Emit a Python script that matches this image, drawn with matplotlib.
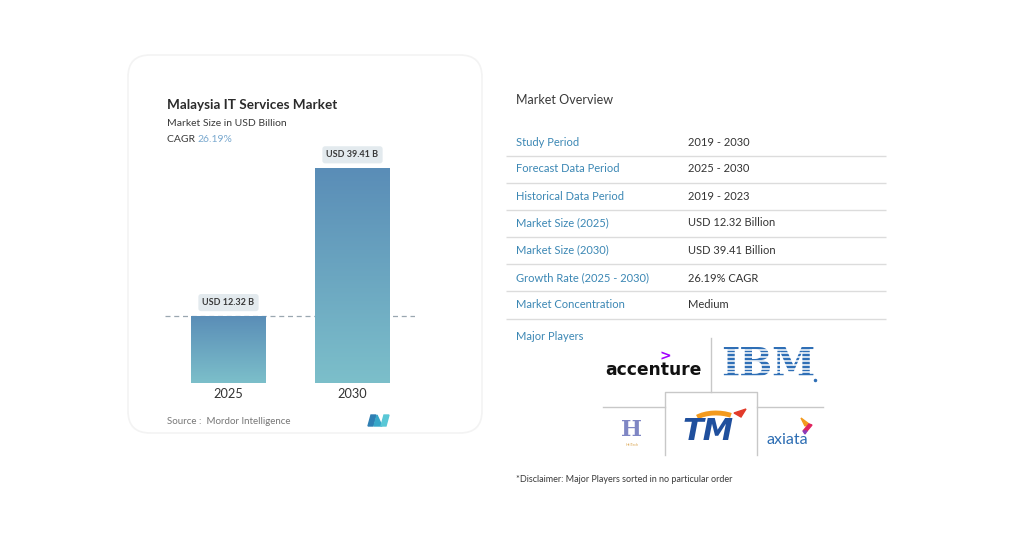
import numpy as np
import matplotlib.pyplot as plt
from matplotlib.patches import FancyBboxPatch, Polygon, Arc
from matplotlib.colors import LinearSegmentedColormap

plt.rcParams['font.family'] = ['Lato', 'DejaVu Sans']

# chart data
years = ['2025', '2030']
values = [12.32, 39.41]
value_labels = ['USD 12.32 B', 'USD 39.41 B']
cagr = '26.19%'

# overview table
row_names = ['Study Period', 'Forecast Data Period', 'Historical Data Period',
             'Market Size (2025)', 'Market Size (2030)', 'Growth Rate (2025 - 2030)',
             'Market Concentration']
row_values = ['2019 - 2030', '2025 - 2030', '2019 - 2023', 'USD 12.32 Billion',
              'USD 39.41 Billion', '26.19% CAGR', 'Medium']

W, H = 1024, 538
fig = plt.figure(figsize=(W / 100, H / 100), dpi=100)
fig.patch.set_facecolor('white')

# overlay in pixel coordinates
ov = fig.add_axes([0, 0, 1, 1])
ov.set_xlim(0, W)
ov.set_ylim(H, 0)
ov.axis('off')

# card
card = FancyBboxPatch((128, 55), 354, 378, boxstyle='round,pad=0,rounding_size=22',
                      fc='white', ec='#f3f3f3', lw=1.2, zorder=0)
ov.add_patch(card)

ov.text(167, 105, 'Malaysia IT Services Market', fontsize=9.7, fontweight='bold',
        color='#2b2b2b', va='center')
ov.text(167, 124, 'Market Size in USD Billion', fontsize=7.5, color='#3a3a3a', va='center')
t = ov.text(167, 140, 'CAGR ', fontsize=7.5, color='#3a3a3a', va='center')
ov.annotate(cagr, xycoords=t, xy=(1, 0), va='bottom', fontsize=7.5, color='#7aa9cf')

ov.text(167, 421, 'Source :  Mordor Intelligence', fontsize=7, color='#777777', va='center')
# small logo
ov.add_patch(Polygon([[368, 426], [371, 415], [376, 415], [373, 426]], color='#2f7fb3'))
ov.add_patch(Polygon([[374, 426], [377, 415], [382, 426]], color='#37a6c8'))
ov.add_patch(Polygon([[381, 426], [384, 415], [389, 415], [386, 426]], color='#59c7d6'))

# bar chart axes
base_y, top_y = 383, 140
ax = fig.add_axes([165 / W, (H - base_y) / H, 250 / W, (base_y - top_y) / H])
ymax = values[1] * (base_y - top_y) / (383 - 168)
ax.set_ylim(0, ymax)
xpos = np.arange(len(years))
ax.set_xlim(-(228.5 - 165) / 124, 1 + (415 - 352.5) / 124)
ax.axis('off')
ax.patch.set_alpha(0)

bw = 75 / 124
bars = ax.bar(xpos, values, width=bw, color='none', zorder=2)
grad = np.linspace(0, 1, 256).reshape(-1, 1)
cmap = LinearSegmentedColormap.from_list('g', ['#7cbfca', '#5a8db7'])
for b in bars:
    x0, w, h = b.get_x(), b.get_width(), b.get_height()
    im = ax.imshow(grad, cmap=cmap, extent=[x0, x0 + w, 0, h], origin='lower',
                   aspect='auto', zorder=2)
    im.set_clip_path(b)

ax.axhline(values[0], color='#9aa7b0', lw=0.9, ls=(0, (4, 3)), zorder=1)

for x, v, lab in zip(xpos, values, value_labels):
    ax.annotate(lab, xy=(x, v), xytext=(0, 9.5), textcoords='offset points',
                ha='center', va='center', fontsize=6.5, fontweight='bold', color='#3a3a3a',
                bbox=dict(boxstyle='round,pad=0.45,rounding_size=0.3', fc='#e3eaee', ec='none'),
                zorder=3)
    ax.text(x, -ymax * 0.045, years[int(x)], ha='center', va='center', fontsize=9.2,
            color='#333333')

# overview side
ov.text(516, 100, 'Market Overview', fontsize=9, color='#3a3a3a', va='center')
row_y = [142, 169, 196, 223, 250, 278, 305]
sep_y = [156, 183, 210, 237, 264, 291, 319]
for y, name, val in zip(row_y, row_names, row_values):
    ov.text(516, y, name, fontsize=8, color='#3b87b4', va='center')
    ov.text(688, y, val, fontsize=8, color='#333333', va='center')
for y in sep_y:
    ov.plot([506, 886], [y, y], color='#dcdcdc', lw=1, solid_capstyle='butt')
ov.text(516, 337, 'Major Players', fontsize=8, color='#3b87b4', va='center')

# logo grid
lc = '#c8c8c8'
ov.plot([711, 711], [338, 392], color=lc, lw=1)
ov.plot([603, 665], [407, 407], color=lc, lw=1)
ov.plot([757, 823], [407, 407], color=lc, lw=1)
ov.plot([665, 665, 757, 757], [455, 392, 392, 455], color=lc, lw=1)

# accenture
ov.text(653, 370, 'accenture', fontsize=12.3, fontweight='bold', color='#111111',
        ha='center', va='center', family='DejaVu Sans')
ov.text(665, 356, '>', fontsize=10, fontweight='bold', color='#a100ff', ha='center',
        va='center', family='DejaVu Sans')

# IBM
ov.text(768, 365, 'IBM', fontsize=28, fontweight='bold', color='#2f6fb6', ha='center',
        va='center', family='DejaVu Serif')
for yy in np.arange(349.5, 384, 3.8):
    ov.plot([716, 822], [yy, yy], color='white', lw=1.1, zorder=5)
ov.plot([815], [380], marker='o', ms=1.5, color='#2f6fb6', zorder=6)

# H logo
ov.text(632, 430, 'H', fontsize=16, fontweight='bold', color='#7f86c4', ha='center',
        va='center', family='DejaVu Serif')
ov.text(632, 445, 'HeiTech', fontsize=2.5, color='#d9a24a', ha='center', va='center')

# TM
ov.text(708, 431, 'TM', fontsize=22, fontweight='bold', style='italic', color='#1f4f9d',
        ha='center', va='center', family='DejaVu Sans')
ov.add_patch(Arc((716, 424), 48, 22, theta1=200, theta2=330, color='#f39a1e', lw=3.5))
ov.add_patch(Polygon([[734, 413], [746, 409], [741, 417]], color='#e23b2a'))

# axiata
ov.text(787, 440, 'axiata', fontsize=11.5, color='#2c6db3', ha='center', va='center')
ov.add_patch(Polygon([[801, 418], [809, 424], [805, 426]], color='#f39a1e'))
ov.add_patch(Polygon([[809, 424], [803, 431], [807, 431], [812, 425]], color='#e0245e'))
ov.add_patch(Polygon([[803, 431], [807, 431], [805, 434]], color='#8a3ab9'))

ov.text(516, 479, '*Disclaimer: Major Players sorted in no particular order', fontsize=6.5,
        color='#3a3a3a', va='center')

fig.savefig('out.png', dpi=100)
